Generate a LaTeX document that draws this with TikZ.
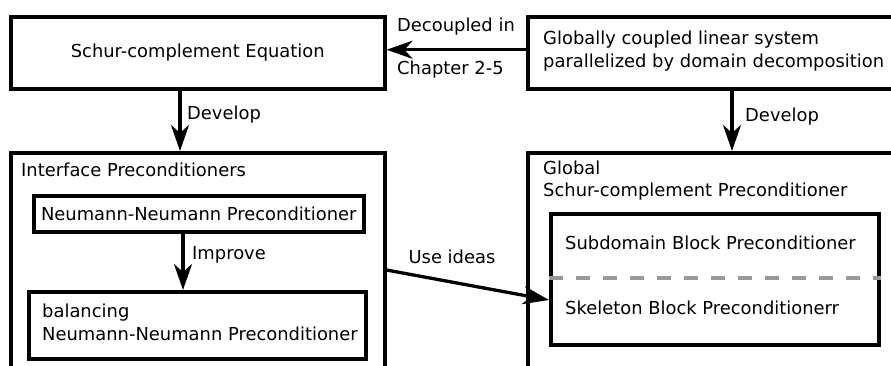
\documentclass[tikz,border=0pt]{standalone}
\usepackage{fontspec}
\setmainfont{DejaVu Sans}
\usetikzlibrary{arrows.meta}
\begin{document}
\begin{tikzpicture}[x=1bp,y=-1bp,
  box/.style={draw, line width=3.5bp, inner sep=0pt, anchor=north west},
  txt/.style={inner sep=0pt, font=\fontsize{17.9bp}{22.8bp}\selectfont, align=left},
  arr/.style={line width=3.3bp, -{Stealth[length=26bp,width=18bp,inset=8bp]}},
  sep/.style={draw=black!40, line width=3.5bp, dash pattern=on 14bp off 13bp},
]
\useasboundingbox (0,0) rectangle (891,365);
\clip (0,0) rectangle (891,365);

% x positions of the vertical connectors, y positions of the slanted one
\coordinate (xl) at (180,0);
\coordinate (xr) at (732,0);
\coordinate (xi) at (183,0);
\coordinate (ya) at (0,270);
\coordinate (yb) at (0,300);
\coordinate (yd) at (0,278);

% top row
\node[box, minimum width=374bp, minimum height=72bp] (eq) at (9,15) {};
\node[txt] (eqt) at (eq.center) {Schur-complement Equation};
\node[box, minimum width=400bp, minimum height=72bp] (gl) at (526,15) {};
\node[txt, anchor=west] (glt) at (543,51) {Globally coupled linear system\\parallelized by domain decomposition};

% lower containers
\node[box, minimum width=374bp, minimum height=260bp] (ip) at (9,151) {};
\node[box, minimum width=400bp, minimum height=260bp] (gs) at (526,151) {};
\node[txt, anchor=west] (ipt) at (21,170) {Interface Preconditioners};
\node[txt, anchor=west] (gst) at (543,180.5) {Global\\Schur-complement Preconditioner};

% interface preconditioners
\node[box, minimum width=330bp, minimum height=36bp] (nn) at (32,194) {};
\node[txt] (nnt) at (nn.center) {Neumann-Neumann Preconditioner};
\node[box, minimum width=337bp, minimum height=67bp] (bnn) at (27,290) {};
\node[txt, anchor=west] (bnnt) at (42,322.5) {balancing\\Neumann-Neumann Preconditioner};

% global Schur-complement preconditioner blocks
\node[box, minimum width=328bp, minimum height=131bp] (sb) at (549,212) {};
\draw[sep] (sb.west |- yd) -- (sb.east |- yd);
\node[txt, anchor=west] (sdt) at (565,243) {Subdomain Block Preconditioner};
\node[txt, anchor=west] (skt) at (565,308) {Skeleton Block Preconditionerr};

% connectors
\draw[arr] ([yshift=3bp]gl.west) -- ([yshift=3bp]eq.east);
\draw[arr] (eq.south -| xl) -- (ip.north -| xl);
\draw[arr] (gl.south -| xr) -- (gs.north -| xr);
\draw[arr] (nn.south -| xi) -- (bnn.north -| xi);
\draw[arr] (ip.east |- ya) -- (sb.west |- yb);

% connector labels
\node[txt, anchor=west] (lbdec) at (397,27) {Decoupled in};
\node[txt, anchor=west] (lbch) at (397,70) {Chapter 2-5};
\node[txt, anchor=west] (lbdev1) at (187,115) {Develop};
\node[txt, anchor=west] (lbdev2) at (745,117) {Develop};
\node[txt, anchor=west] (lbimp) at (192,255) {Improve};
\node[txt] (lbuse) at (452,257) {Use ideas};
\end{tikzpicture}
\end{document}
